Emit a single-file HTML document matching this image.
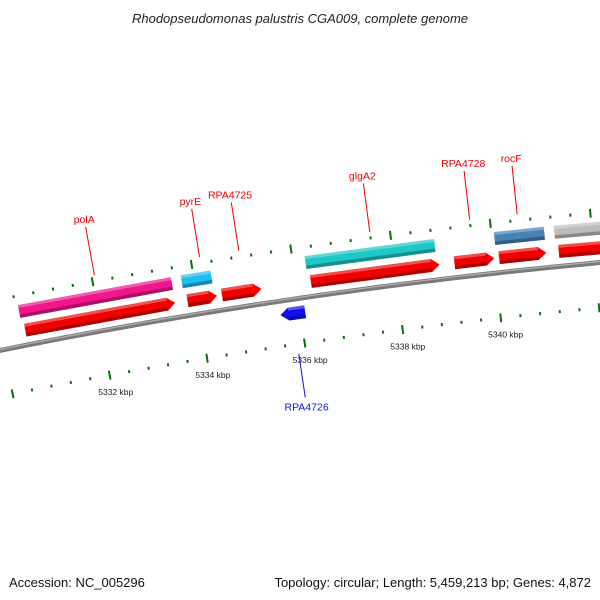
<!DOCTYPE html>
<html><head><meta charset="utf-8">
<style>
html,body{margin:0;padding:0;background:#fff;}
svg{display:block;font-family:"Liberation Sans","DejaVu Sans",sans-serif;}
</style></head>
<body>
<svg id="map" width="600" height="600" viewBox="0 0 600 600" xmlns="http://www.w3.org/2000/svg">
<defs>
<linearGradient id="shade" x1="0" y1="0" x2="0" y2="1">
<stop offset="0" stop-color="#fff" stop-opacity="0.35"/>
<stop offset="0.3" stop-color="#fff" stop-opacity="0"/>
<stop offset="0.7" stop-color="#000" stop-opacity="0"/>
<stop offset="1" stop-color="#000" stop-opacity="0.3"/>
</linearGradient>
</defs>
<text x="300" y="23" text-anchor="middle" font-size="13" font-style="italic" fill="#222">Rhodopseudomonas palustris CGA009, complete genome</text>
<g id="plot"></g>
<text x="9" y="587" font-size="13" fill="#111">Accession: NC_005296</text>
<text x="591" y="587" text-anchor="end" font-size="13" fill="#111">Topology: circular; Length: 5,459,213 bp; Genes: 4,872</text>
</svg>
<script>
// data (kbp)
const geneNames   = ["polA","pyrE","RPA4725","RPA4726","glgA2","RPA4728","rocF","next-gene"];
const geneStarts  = [5330.5,5333.8,5334.5,5335.6,5336.3,5339.2,5340.1,5341.3];
const geneEnds    = [5333.55,5334.4,5335.3,5336.1,5338.9,5340.0,5341.05,5344.0];
const geneStrands = [1,1,1,-1,1,1,1,1];
const geneLabelPos= [5332.06,5334.18,5334.97,5335.85,5337.6,5339.6,5340.55,null];
const cogStarts   = [5330.45,5333.75,5336.25,5340.05,5341.25];
const cogEnds     = [5333.55,5334.35,5338.85,5341.05,5344.0];
const cogColors   = ["#f0168c","#1ebef0","#1ec8c8","#4682b4","#bdbdbd"];
const tickLabels  = [5332,5334,5336,5338,5340];
const tickMin=5328.4, tickMax=5344.4, tickStep=0.4;

const R=5623, CX=1114, CY=5862, PHI0=-0.1456, K0=5336, DPHI=0.00886;
const NS="http://www.w3.org/2000/svg";
const g=document.getElementById('plot');
function pt(k,r){const f=PHI0+(k-K0)*DPHI,p=R+r;return [CX+p*Math.sin(f),CY-p*Math.cos(f)];}
function mk(t,a){const e=document.createElementNS(NS,t);for(const k in a)e.setAttribute(k,a[k]);g.appendChild(e);return e;}
function P(a){return a.map(p=>p[0].toFixed(1)+","+p[1].toFixed(1)).join(" ");}
function arcPath(k1,k2,r){let s="";for(let k=k1;k<=k2+1e-9;k+=0.25){const p=pt(k,r);s+=(s?"L":"M")+p[0].toFixed(1)+" "+p[1].toFixed(1);}return s;}

// backbone
let e=mk('path',{d:arcPath(5328,5345,0),stroke:'#7a7a7a','stroke-width':5,fill:'none'});

e=mk('path',{d:arcPath(5328,5345,1),stroke:'#b0b0b0','stroke-width':1.2,fill:'none'});


// ticks
for(let k=tickMin;k<=tickMax+1e-9;k+=tickStep){
  const major=Math.abs(k/2-Math.round(k/2))<0.01;
  const len=major?4.5:1.5;
  [50,-45].forEach(r=>{
    const a=pt(k,r-len),b=pt(k,r+len);
    const t=mk('line',{x1:a[0],y1:a[1],x2:b[0],y2:b[1],stroke:'#0a700a','stroke-width':2});
    
    
  });
}
tickLabels.forEach(k=>{
  const p=pt(k,-62);
  const t=mk('text',{x:p[0]+3,y:p[1]+3,'text-anchor':'middle','font-size':8.5,fill:'#222'});
  t.textContent=k+" kbp";
  
});

// COG ring
cogStarts.forEach((s,i)=>{
  const r1=28,r2=41,en=cogEnds[i];
  const pts=[pt(s,r1),pt(en,r1),pt(en,r2),pt(s,r2)];
  let b=mk('polygon',{points:P(pts),fill:cogColors[i]});
  
  const top=[pt(s,r2),pt(en,r2),pt(en,r2-3),pt(s,r2-3)];
  b=mk('polygon',{points:P(top),fill:'#fff','fill-opacity':0.3});
  
  const d=[pt(s,r1),pt(en,r1),pt(en,r1+3.5),pt(s,r1+3.5)];
  b=mk('polygon',{points:P(d),fill:'#000','fill-opacity':0.28});
  
});

// genes
geneNames.forEach((n,i)=>{
  const s=geneStarts[i],en=geneEnds[i],st=geneStrands[i];
  const rc=st>0?15:-14,h=6.5,tip=0.16;
  let pts;
  if(st>0){pts=[pt(s,rc-h),pt(en-tip,rc-h),pt(en,rc),pt(en-tip,rc+h),pt(s,rc+h)];}
  else{pts=[pt(s+tip,rc-h),pt(en,rc-h),pt(en,rc+h),pt(s+tip,rc+h),pt(s,rc)];}
  let b=mk('polygon',{points:P(pts),fill:st>0?'#f00000':'#1010e8'});
  
  const a0=s+(st<0?tip:0),a1=en-(st>0?tip:0);
  const top=[pt(a0,rc+h),pt(a1,rc+h),pt(a1,rc+h-3),pt(a0,rc+h-3)];
  b=mk('polygon',{points:P(top),fill:'#fff','fill-opacity':0.3});
  
  const bot=[pt(a0,rc-h),pt(a1,rc-h),pt(a1,rc-h+3.5),pt(a0,rc-h+3.5)];
  b=mk('polygon',{points:P(bot),fill:'#000','fill-opacity':0.28});
  
  const lk=geneLabelPos[i];
  if(lk!==null){
    const col=st>0?'#f00000':'#1010e8';
    const a=st>0?pt(lk,56):pt(lk,-55), c=st>0?pt(lk,105):pt(lk,-99), lp=st>0?pt(lk,113):pt(lk,-108);
    let l=mk('line',{x1:a[0],y1:a[1],x2:c[0],y2:c[1],stroke:col,'stroke-width':1});
    
    let t=mk('text',{x:lp[0],y:lp[1]+4,'text-anchor':'middle','font-size':10.5,fill:col});
    t.textContent=n;
    
  }
});
</script>
</body></html>
